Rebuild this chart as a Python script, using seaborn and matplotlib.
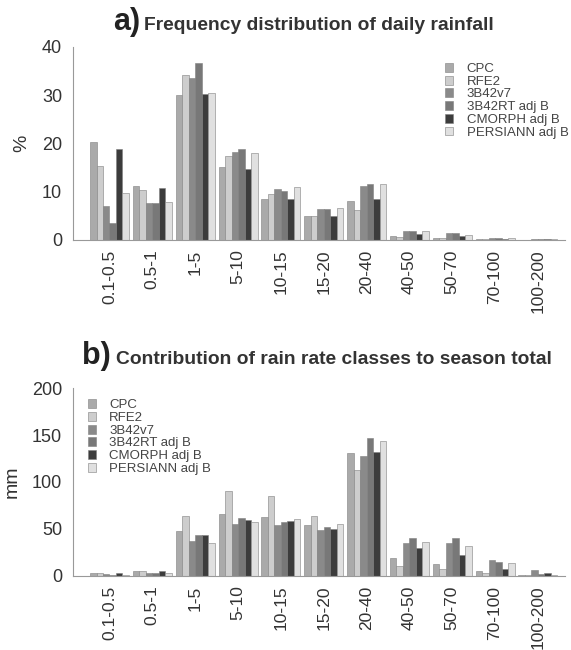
import matplotlib
matplotlib.use("Agg")
import matplotlib.pyplot as plt
import numpy as np
import pandas as pd
import seaborn as sns

classes = ["0.1-0.5", "0.5-1", "1-5", "5-10", "10-15", "15-20",
           "20-40", "40-50", "50-70", "70-100", "100-200"]
products = ["CPC", "RFE2", "3B42v7", "3B42RT adj B", "CMORPH adj B", "PERSIANN adj B"]

# a) frequency of daily rainfall (%)
freq_cpc = [20.3, 11.1, 30.0, 15.0, 8.4, 4.9, 8.0, 0.8, 0.4, 0.2, 0.05]
freq_rfe2 = [15.4, 10.4, 34.2, 17.4, 9.6, 4.9, 6.1, 0.5, 0.3, 0.1, 0.02]
freq_3b42v7 = [7.0, 7.7, 33.6, 18.3, 10.5, 6.4, 11.1, 1.8, 1.4, 0.4, 0.2]
freq_3b42rt = [3.5, 7.7, 36.6, 18.9, 10.2, 6.3, 11.6, 1.9, 1.4, 0.4, 0.15]
freq_cmorph = [18.9, 10.8, 30.3, 14.6, 8.4, 4.9, 8.4, 1.2, 0.7, 0.2, 0.1]
freq_persiann = [9.7, 7.9, 30.5, 18.0, 10.9, 6.7, 11.6, 1.9, 1.1, 0.3, 0.1]

# b) contribution to season total (mm)
tot_cpc = [3.5, 5.6, 48, 65.5, 62.7, 53.7, 131, 19, 13, 5, 1.4]
tot_rfe2 = [2.8, 5.6, 63.8, 90.6, 85.4, 63.9, 113, 11, 7.7, 3.5, 1.0]
tot_3b42v7 = [1.7, 3.5, 37.3, 55, 54, 48.8, 128, 35, 35, 16.7, 6.3]
tot_3b42rt = [1.4, 3.5, 43.6, 61.7, 57.5, 51.9, 147, 40, 40, 14.6, 2.4]
tot_cmorph = [2.8, 4.9, 43.6, 60, 58.9, 49.8, 132, 30, 22, 7, 3.5]
tot_persiann = [1.4, 2.8, 35.5, 57.8, 60.3, 55.4, 144, 36.6, 32, 14, 1.0]

colors = ["#aaaaaa", "#cdcdcd", "#8a8a8a", "#787878", "#3c3c3c", "#e0e0e0"]


def long_frame(series):
    rows = []
    for prod, vals in zip(products, series):
        for c, v in zip(classes, vals):
            rows.append({"cls": c, "product": prod, "value": v})
    return pd.DataFrame(rows)


def draw_panel(ax, df, ylim, yticks, ylabel, legend_anchor):
    sns.barplot(data=df, x="cls", y="value", hue="product", order=classes,
                hue_order=products, palette=colors, width=0.91, gap=0,
                edgecolor="0.5", linewidth=0.4, ax=ax)
    ax.set_xlim(-0.85, 10.64)
    ax.set_ylim(*ylim)
    ax.set_yticks(yticks)
    ax.set_xticks(np.arange(len(classes)))
    ax.set_xticklabels(classes, rotation=90, fontsize=12.5, color="#333333")
    ax.tick_params(axis="x", length=0, pad=7)
    ax.tick_params(axis="y", labelsize=13, labelcolor="#333333", length=3,
                   color="#999999", pad=5)
    ax.set_xlabel("")
    ax.set_ylabel(ylabel, fontsize=14, color="#333333", labelpad=8)
    for s in ["top", "right"]:
        ax.spines[s].set_visible(False)
    for s in ["left", "bottom"]:
        ax.spines[s].set_color("#999999")
        ax.spines[s].set_linewidth(0.8)
    handles, labels = ax.get_legend_handles_labels()
    ax.legend(handles, labels, loc="upper left", bbox_to_anchor=legend_anchor,
              frameon=False, fontsize=9.5, handlelength=0.65, handleheight=0.65,
              handletextpad=1.0, labelspacing=0.05, borderpad=0,
              labelcolor="#444444")


sns.set_style("white")
plt.rcParams["font.family"] = ["Liberation Sans", "DejaVu Sans"]

fig = plt.figure(figsize=(5.71, 6.5), dpi=100)
ax_a = fig.add_axes([0.128, 0.631, 0.862, 0.297])
ax_b = fig.add_axes([0.128, 0.114, 0.862, 0.289])

draw_panel(ax_a, long_frame([freq_cpc, freq_rfe2, freq_3b42v7, freq_3b42rt,
                             freq_cmorph, freq_persiann]),
           (0, 40), [0, 10, 20, 30, 40], "%", (0.742, 0.95))
draw_panel(ax_b, long_frame([tot_cpc, tot_rfe2, tot_3b42v7, tot_3b42rt,
                             tot_cmorph, tot_persiann]),
           (0, 200), [0, 50, 100, 150, 200], "mm", (0.016, 0.975))

fig.text(140 / 571, 1 - 30 / 650, "a)", fontsize=22, fontweight="bold",
         ha="right", va="baseline", color="#222222")
fig.text(144 / 571, 1 - 30 / 650, "Frequency distribution of daily rainfall",
         fontsize=13.9, fontweight="bold", ha="left", va="baseline", color="#333333")
fig.text(111 / 571, 1 - 364 / 650, "b)", fontsize=22, fontweight="bold",
         ha="right", va="baseline", color="#222222")
fig.text(116 / 571, 1 - 364 / 650, "Contribution of rain rate classes to season total",
         fontsize=13.9, fontweight="bold", ha="left", va="baseline", color="#333333")

fig.savefig("out.png", dpi=100, facecolor="white")
